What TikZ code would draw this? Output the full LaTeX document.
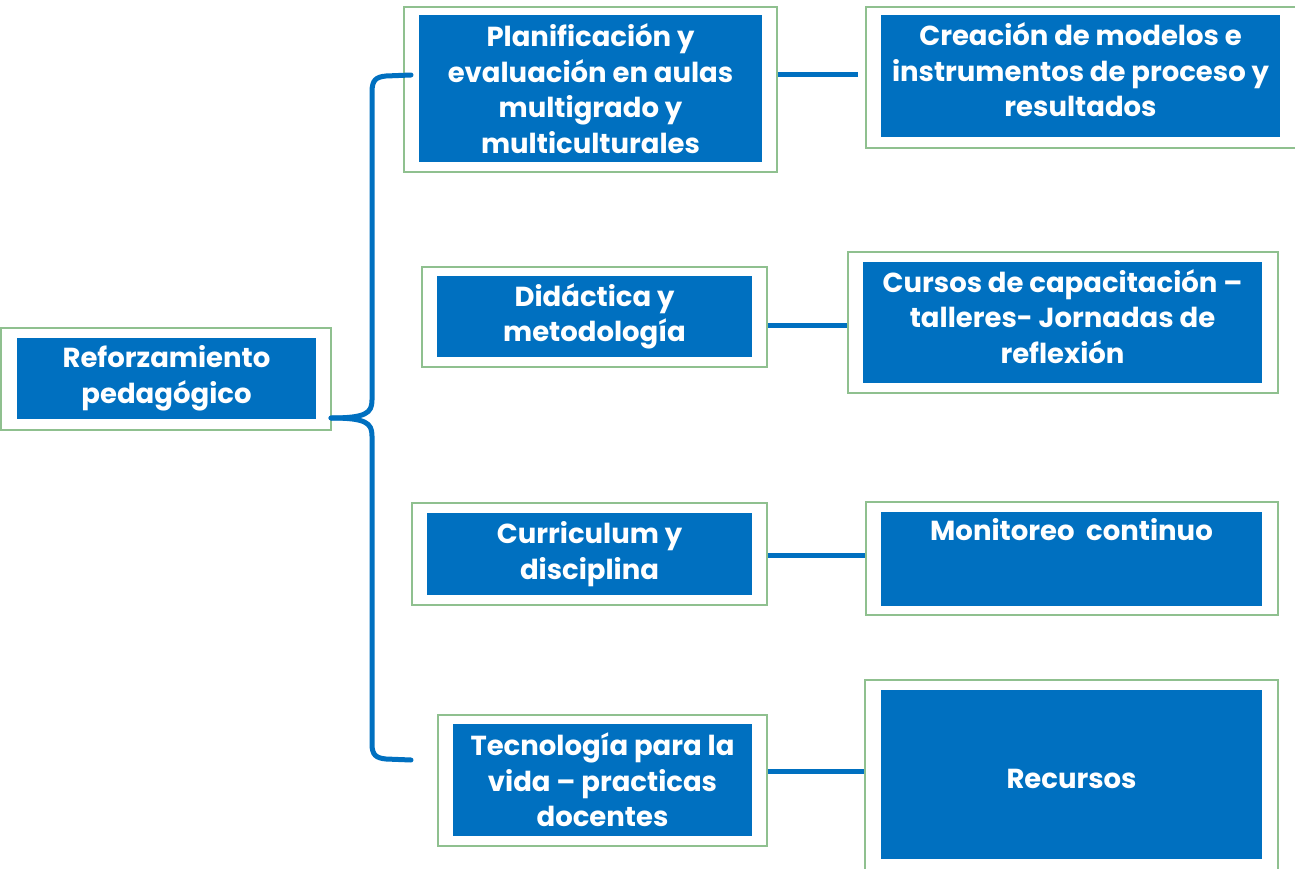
\documentclass[tikz,border=0pt]{standalone}
\usepackage{fontspec}
\setmainfont{Poppins}
\definecolor{boxblue}{RGB}{0,112,192}
\definecolor{boxgreen}{RGB}{143,192,143}
\tikzset{
  outerbox/.style={draw=boxgreen, line width=1.3pt, fill=white, inner sep=0pt, minimum width=#1},
  innerbox/.style={fill=boxblue, inner sep=0pt, text=white, align=center, font=\fontsize{27.5}{35.5}\selectfont\bfseries},
  boxtext/.style={inner sep=0pt, text=white, align=center, font=\fontsize{27.5}{35.5}\selectfont\bfseries},
  link/.style={draw=boxblue, line width=5pt},
}
\begin{document}
\begin{tikzpicture}[x=1pt,y=-1pt]
\useasboundingbox (0,0) rectangle (1295,869);
% outer boxes
\node[outerbox=330pt, minimum height=102pt] (o1) at (166,379) {};
\node[outerbox=373pt, minimum height=165pt] (o2) at (590.5,89.5) {};
\node[outerbox=430pt, minimum height=141pt] (o3) at (1081,77.5) {};
\node[outerbox=345pt, minimum height=100pt] (o4) at (594.5,317) {};
\node[outerbox=430pt, minimum height=141pt] (o5) at (1063,322.5) {};
\node[outerbox=355pt, minimum height=102pt] (o6) at (589.5,554) {};
\node[outerbox=412pt, minimum height=113pt] (o7) at (1072,558.5) {};
\node[outerbox=329pt, minimum height=131pt] (o8) at (602.5,780.5) {};
\node[outerbox=413pt, minimum height=200pt] (o9) at (1071.5,780) {};
% inner boxes
\node[innerbox, minimum width=299pt, minimum height=81pt] (b1) at (166.5,378.5) {Reforzamiento\\pedagógico};
\node[innerbox, minimum width=343pt, minimum height=147pt] (b2) at (590.5,88.5) {Planificación y\\evaluación en aulas\\multigrado y\\multiculturales};
\node[innerbox, minimum width=399pt, minimum height=122pt] (b3) at (1080.5,76) {};
\node[boxtext] (t3) at (1080.5,70) {Creación de modelos e\\instrumentos de proceso y\\resultados};
\node[innerbox, minimum width=315pt, minimum height=81pt] (b4) at (594.5,316.5) {Didáctica y\\metodología};
\node[innerbox, minimum width=399pt, minimum height=121pt] (b5) at (1062.5,322.5) {};
\node[boxtext] (t5) at (1062.5,316.5) {Cursos de capacitación –\\talleres- Jornadas de\\reflexión};
\node[innerbox, minimum width=325pt, minimum height=82pt] (b6) at (589.5,554) {Curriculum y\\disciplina};
\node[innerbox, minimum width=381pt, minimum height=94pt] (b7) at (1071.5,559) {};
\node[boxtext, anchor=north] (t7) at (1071.5,518) {Monitoreo\ \ continuo};
\node[innerbox, minimum width=299pt, minimum height=112pt] (b8) at (602.5,780) {Tecnología para la\\vida – practicas\\docentes};
\node[innerbox, minimum width=381pt, minimum height=169pt] (b9) at (1071.5,774.5) {};
\node[boxtext] (t9) at (1071.5,778.5) {Recursos};
% connectors
\coordinate (c3) at (858,75);
\draw[link] (o2.east |- 0,75) -- (c3);
\draw[link] (o4.east |- 0,325) -- (o5.west |- 0,325);
\draw[link] (o6.east |- 0,555) -- (o7.west |- 0,555);
\draw[link] (o8.east |- 0,771) -- (o9.west |- 0,771);
% brace
\coordinate (tip) at (331,418);
\coordinate (top) at (411,75);
\coordinate (bot) at (411,760);
\draw[link, line cap=round] (top) -- (386,76) .. controls (376,77) and (372,80) .. (372,92) -- (372,400) .. controls (372,413) and (366,418) .. (tip);
\draw[link, line cap=round] (tip) .. controls (366,418) and (372,423) .. (372,436) -- (372,744) .. controls (372,755) and (376,758) .. (386,759) -- (bot);
\end{tikzpicture}
\end{document}
